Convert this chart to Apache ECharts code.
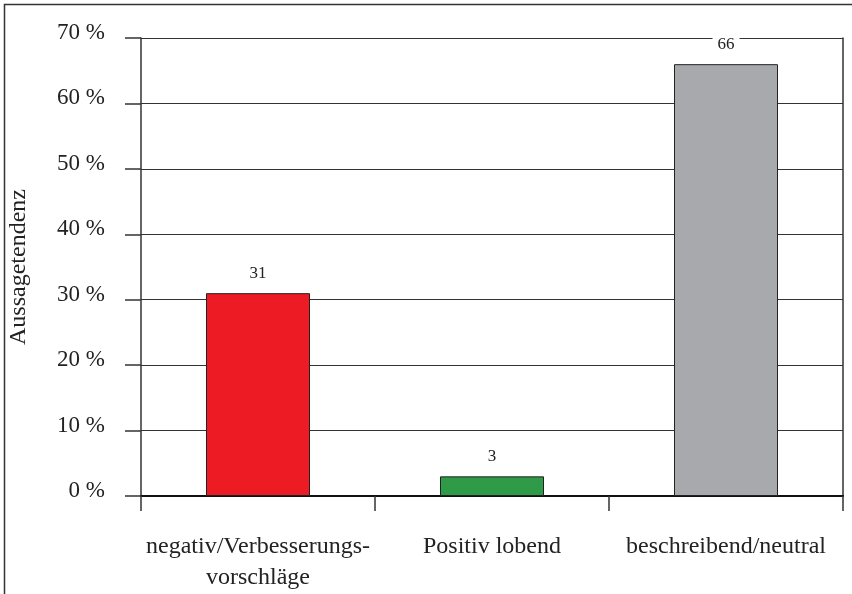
<!DOCTYPE html>
<html>
<head>
<meta charset="utf-8">
<script src="https://cdn.jsdelivr.net/npm/echarts@6/dist/echarts.min.js"></script>
<style>html,body{margin:0;padding:0;background:#fff}#c{width:852px;height:594px}</style>
</head>
<body>
<div id="c"></div>
<script>
const categories = ['negativ/Verbesserungs-\nvorschläge', 'Positiv lobend', 'beschreibend/neutral'];
const values = [31, 3, 66];
const barColors = ['#ED1C24', '#2F9A48', '#A7A9AC'];
const yTicks = [0, 10, 20, 30, 40, 50, 60, 70];
const yTitle = 'Aussagetendenz';

const FONT = '"Liberation Serif", "DejaVu Serif", serif';
const chart = echarts.init(document.getElementById('c'));
chart.setOption({
  animation: false,
  backgroundColor: '#fff',
  grid: { left: 141, right: 9, top: 38, bottom: 98, containLabel: false, outerBoundsMode: 'none' },
  graphic: [{
    type: 'rect', shape: { x: 4.5, y: 4.5, width: 900, height: 700 },
    style: { fill: 'none', stroke: '#333', lineWidth: 1.5 }, silent: true
  }],
  xAxis: [{
    type: 'category', data: categories, boundaryGap: true,
    axisLine: { show: true, lineStyle: { color: '#333', width: 1.5 } },
    axisTick: { show: true, length: 15, lineStyle: { color: '#333', width: 1.5 } },
    axisLabel: { fontFamily: FONT, fontSize: 24, color: '#222', margin: 35, lineHeight: 31, interval: 0 }
  }, {
    type: 'category', data: categories, position: 'top',
    axisLine: { show: true, lineStyle: { color: '#111', width: 2 } },
    axisTick: { show: false }, axisLabel: { show: false }
  }],
  yAxis: [{
    type: 'value', min: yTicks[0], max: yTicks[yTicks.length - 1], interval: 10,
    name: yTitle, nameLocation: 'middle', nameGap: 110, nameRotate: 90,
    nameTextStyle: { fontFamily: FONT, fontSize: 24, color: '#222' },
    axisLine: { show: true, lineStyle: { color: '#333', width: 1.5 } },
    axisTick: { show: true, length: 16, lineStyle: { color: '#333', width: 1.5 } },
    axisLabel: { fontFamily: FONT, fontSize: 23, color: '#222', margin: 36, formatter: '{value} %', verticalAlign: 'bottom', lineHeight: 10 },
    splitLine: { show: true, lineStyle: { color: '#333', width: 1.2 } }
  }, {
    type: 'value', min: 0, max: 70, interval: 10, position: 'right',
    axisLine: { show: true, lineStyle: { color: '#333', width: 1.5 } },
    axisTick: { show: false }, axisLabel: { show: false }, splitLine: { show: false }
  }],
  series: [{
    type: 'bar', barWidth: 104,
    data: values.map((v, i) => ({ value: v, itemStyle: { color: barColors[i] } })),
    itemStyle: { borderColor: '#222', borderWidth: 1 },
    label: {
      show: true, position: 'top', distance: 11,
      fontFamily: FONT, fontSize: 17, color: '#222',
      backgroundColor: '#fff', padding: [0, 5, 0, 5]
    },
    z: 3
  }]
});
</script>
</body>
</html>
